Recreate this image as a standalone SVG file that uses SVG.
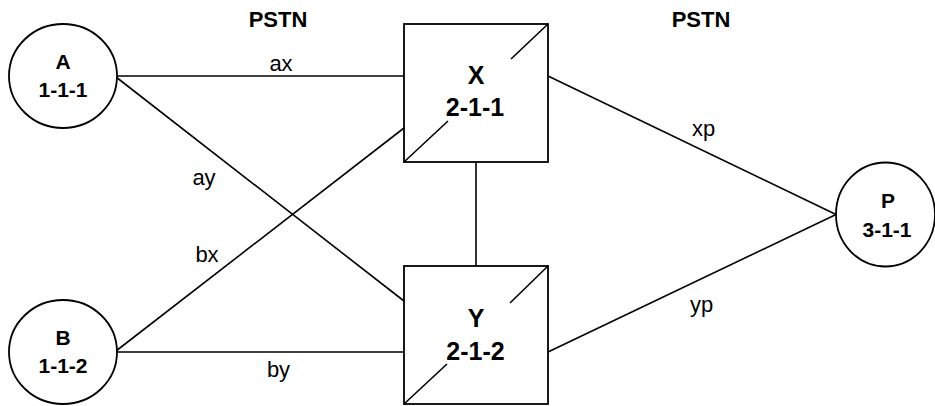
<svg xmlns="http://www.w3.org/2000/svg" width="935" height="406" viewBox="0 0 935 406">
<style>
  .node { fill: #ffffff; stroke: #000000; stroke-width: 1.8; }
  .diag { fill: none; stroke: #000000; stroke-width: 1.6; }
  .conn { fill: none; stroke: #000000; stroke-width: 1.6; }
  .ctext { font-family: "Liberation Sans", Arial, sans-serif; font-weight: bold; font-size: 21px; text-anchor: middle; fill: #000; }
  .btext { font-family: "Liberation Sans", Arial, sans-serif; font-weight: bold; font-size: 25px; text-anchor: middle; fill: #000; }
  .label { font-family: "Liberation Sans", Arial, sans-serif; font-size: 22px; text-anchor: middle; fill: #000; }
  .title { font-family: "Liberation Sans", Arial, sans-serif; font-weight: bold; font-size: 22px; text-anchor: middle; fill: #000; }
</style>
<rect width="935" height="406" fill="#ffffff"/>
<g id="titles">
  <text class="title" x="278" y="27">PSTN</text>
  <text class="title" x="701" y="27">PSTN</text>
</g>
<g id="connectors">
  <line class="conn" x1="117" y1="76" x2="404" y2="76"/>
  <line class="conn" x1="116" y1="77" x2="404" y2="301"/>
  <line class="conn" x1="116" y1="351" x2="404" y2="128"/>
  <line class="conn" x1="117" y1="352" x2="404" y2="352"/>
  <line class="conn" x1="476" y1="162" x2="476" y2="266"/>
  <line class="conn" x1="548" y1="76" x2="836" y2="214.5"/>
  <line class="conn" x1="548" y1="352" x2="836" y2="214.5"/>
  <text class="label" x="281" y="71">ax</text>
  <text class="label" x="204" y="185">ay</text>
  <text class="label" x="207" y="262">bx</text>
  <text class="label" x="278.5" y="377">by</text>
  <text class="label" x="703.5" y="136">xp</text>
  <text class="label" x="701.5" y="312">yp</text>
</g>
<g id="A">
  <ellipse class="node" cx="63" cy="76" rx="54" ry="52"/>
  <text class="ctext" x="63" y="69">A</text>
  <text class="ctext" x="63" y="97">1-1-1</text>
</g>
<g id="B">
  <ellipse class="node" cx="63" cy="352" rx="54" ry="52"/>
  <text class="ctext" x="63" y="345">B</text>
  <text class="ctext" x="63" y="373">1-1-2</text>
</g>
<g id="P">
  <ellipse class="node" cx="885.5" cy="214.5" rx="49.5" ry="52"/>
  <text class="ctext" x="888" y="208">P</text>
  <text class="ctext" x="887" y="236.5">3-1-1</text>
</g>
<g id="X">
  <rect class="node" x="404" y="24" width="144" height="138"/>
  <line class="diag" x1="404" y1="162" x2="448" y2="121"/>
  <line class="diag" x1="511" y1="59" x2="548" y2="24"/>
  <text class="btext" x="476" y="83.5">X</text>
  <text class="btext" x="475" y="116">2-1-1</text>
</g>
<g id="Y">
  <rect class="node" x="404" y="266" width="144" height="138"/>
  <line class="diag" x1="404" y1="404" x2="447" y2="364"/>
  <line class="diag" x1="510" y1="303" x2="548" y2="266"/>
  <text class="btext" x="476" y="327">Y</text>
  <text class="btext" x="475.5" y="360">2-1-2</text>
</g>
</svg>
